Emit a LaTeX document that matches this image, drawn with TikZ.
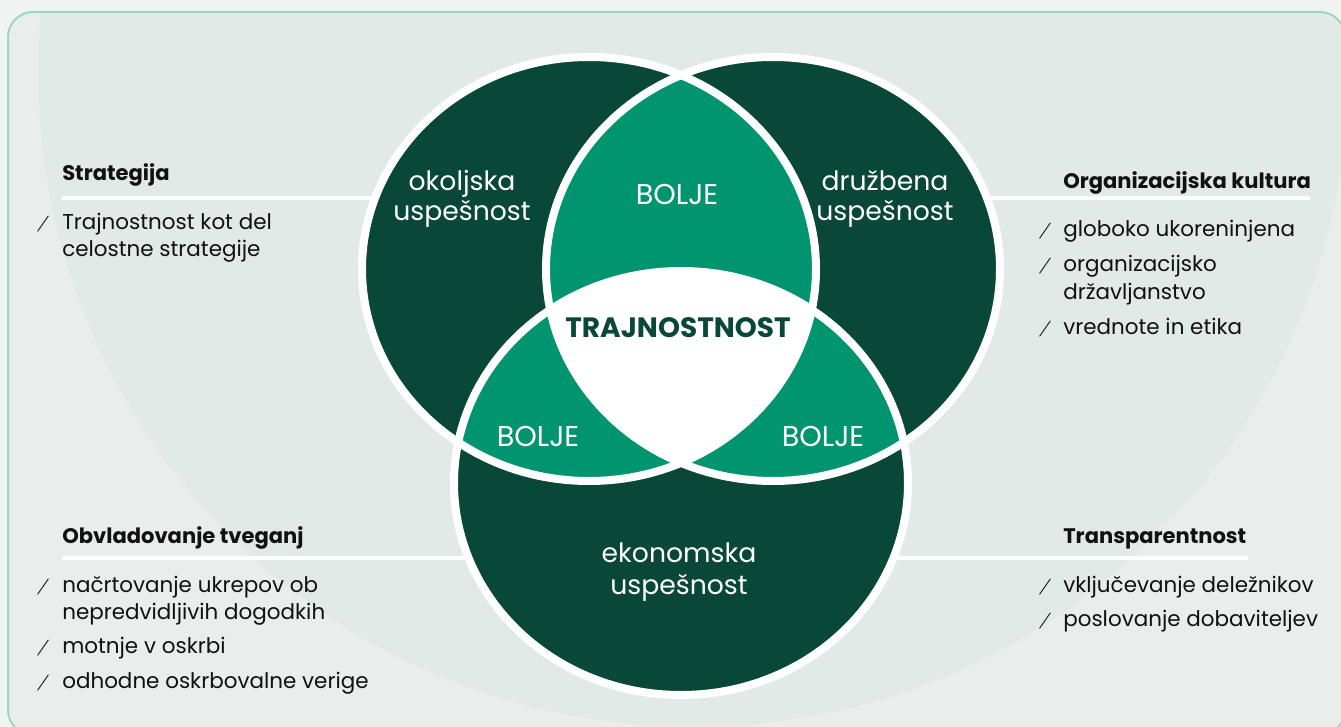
\documentclass[tikz,border=0pt]{standalone}
\usepackage{fontspec}
\setmainfont{Poppins}
\definecolor{outerbg}{HTML}{F0F5F3}
\definecolor{framebg}{HTML}{E9EEEC}
\definecolor{innerbg}{HTML}{E2EAE7}
\definecolor{framecol}{HTML}{9DD6C4}
\definecolor{darkg}{HTML}{094739}
\definecolor{midg}{HTML}{00956F}
\definecolor{ink}{HTML}{111111}
\tikzset{
  body/.style={anchor=base west, inner sep=0pt, text=ink, font=\fontsize{16.1}{19}\selectfont},
  head/.style={anchor=base west, inner sep=0pt, text=ink, font=\fontsize{15.8}{19}\selectfont\bfseries},
  slash/.style={anchor=base west, inner sep=0pt, text=ink, font=\fontsize{10.5}{13}\selectfont, xslant=0.45, transform shape},
  clabel/.style={anchor=base, inner sep=0pt, text=white, font=\fontsize{20}{24}\selectfont},
  blabel/.style={anchor=base, inner sep=0pt, text=white, font=\fontsize{21.5}{24}\selectfont},
  core/.style={anchor=base, inner sep=0pt, text=darkg, font=\fontsize{21}{25}\selectfont\bfseries},
  sepline/.style={white, line width=3pt},
  ring/.style={white, line width=6pt},
}
\def\TL{(589,269) ellipse [x radius=170.25pt, y radius=159pt]}
\def\TR{(773,269) ellipse [x radius=170.25pt, y radius=159pt]}
\def\BO{(681,483) ellipse [x radius=170.25pt, y radius=159pt]}
\begin{document}
\begin{tikzpicture}[x=0.75pt,y=-0.75pt]
\useasboundingbox (0,0) rectangle (1341,727);
\clip (0,0) rectangle (1341,727);
\fill[outerbg] (0,0) rectangle (1341,727);
\fill[framebg, rounded corners=18.75pt] (8,12) rectangle (1345,735);
\begin{scope}
  \clip[rounded corners=18.75pt] (8,12) rectangle (1345,735);
  \fill[innerbg] (693,72) circle [radius=491.25pt];
\end{scope}
\draw[framecol, line width=1.5pt, rounded corners=18.75pt] (8,12) rectangle (1345,735);

% separator lines
\coordinate (s1a) at (62,198);  \coordinate (s1b) at (420,198);
\coordinate (s2a) at (960,198); \coordinate (s2b) at (1310,198);
\coordinate (s3a) at (62,558);  \coordinate (s3b) at (500,558);
\coordinate (s4a) at (860,558); \coordinate (s4b) at (1248,558);
\draw[sepline] (s1a) -- (s1b);
\draw[sepline] (s2a) -- (s2b);
\draw[sepline] (s3a) -- (s3b);
\draw[sepline] (s4a) -- (s4b);

% Venn
\fill[darkg] \TL;
\fill[darkg] \TR;
\fill[darkg] \BO;
\begin{scope}
  \clip \TL;
  \fill[midg] \TR;
  \fill[midg] \BO;
\end{scope}
\begin{scope}
  \clip \TR;
  \fill[midg] \BO;
\end{scope}
\begin{scope}
  \clip \TL;
  \clip \TR;
  \fill[white] \BO;
\end{scope}
\draw[ring] \TL;
\draw[ring] \TR;
\draw[ring] \BO;

% circle labels
\node[clabel] (ok1) at (462,191) {okoljska};
\node[clabel] (ok2) at (462,221) {uspešnost};
\node[clabel] (dr1) at (885,191) {družbena};
\node[clabel] (dr2) at (885,221) {uspešnost};
\node[blabel] (bt) at (677,205) {BOLJE};
\node[core] (core) at (678,337) {TRAJNOSTNOST};
\node[blabel] (bl) at (538,446) {BOLJE};
\node[blabel] (br) at (823,446) {BOLJE};
\node[clabel] (ek1) at (679,562) {ekonomska};
\node[clabel] (ek2) at (679,594) {uspešnost};

% left top
\node[head] (h1) at (62,181) {Strategija};
\node[slash] (q1) at (37,230) {/};
\node[body] (a1) at (62,230) {Trajnostnost kot del};
\node[body] (a2) at (62,257) {celostne strategije};

% right top
\node[head] (h2) at (1063,189) {Organizacijska kultura};
\node[slash] (q2) at (1039,237) {/};
\node[body] (b1) at (1063,237) {globoko ukoreninjena};
\node[slash] (q3) at (1039,272) {/};
\node[body] (b2) at (1063,272) {organizacijsko};
\node[body] (b3) at (1063,299) {državljanstvo};
\node[slash] (q4) at (1039,334) {/};
\node[body] (b4) at (1063,334) {vrednote in etika};

% left bottom
\node[head] (h3) at (62,543) {Obvladovanje tveganj};
\node[slash] (q5) at (37,592) {/};
\node[body] (c1) at (62,592) {načrtovanje ukrepov ob};
\node[body] (c2) at (62,619) {nepredvidljivih dogodkih};
\node[slash] (q6) at (37,653) {/};
\node[body] (c3) at (62,653) {motnje v oskrbi};
\node[slash] (q7) at (37,688) {/};
\node[body] (c4) at (62,688) {odhodne oskrbovalne verige};

% right bottom
\node[head] (h4) at (1063,543) {Transparentnost};
\node[slash] (q8) at (1039,592) {/};
\node[body] (d1) at (1063,592) {vključevanje deležnikov};
\node[slash] (q9) at (1039,626) {/};
\node[body] (d2) at (1063,626) {poslovanje dobaviteljev};
\end{tikzpicture}
\end{document}
